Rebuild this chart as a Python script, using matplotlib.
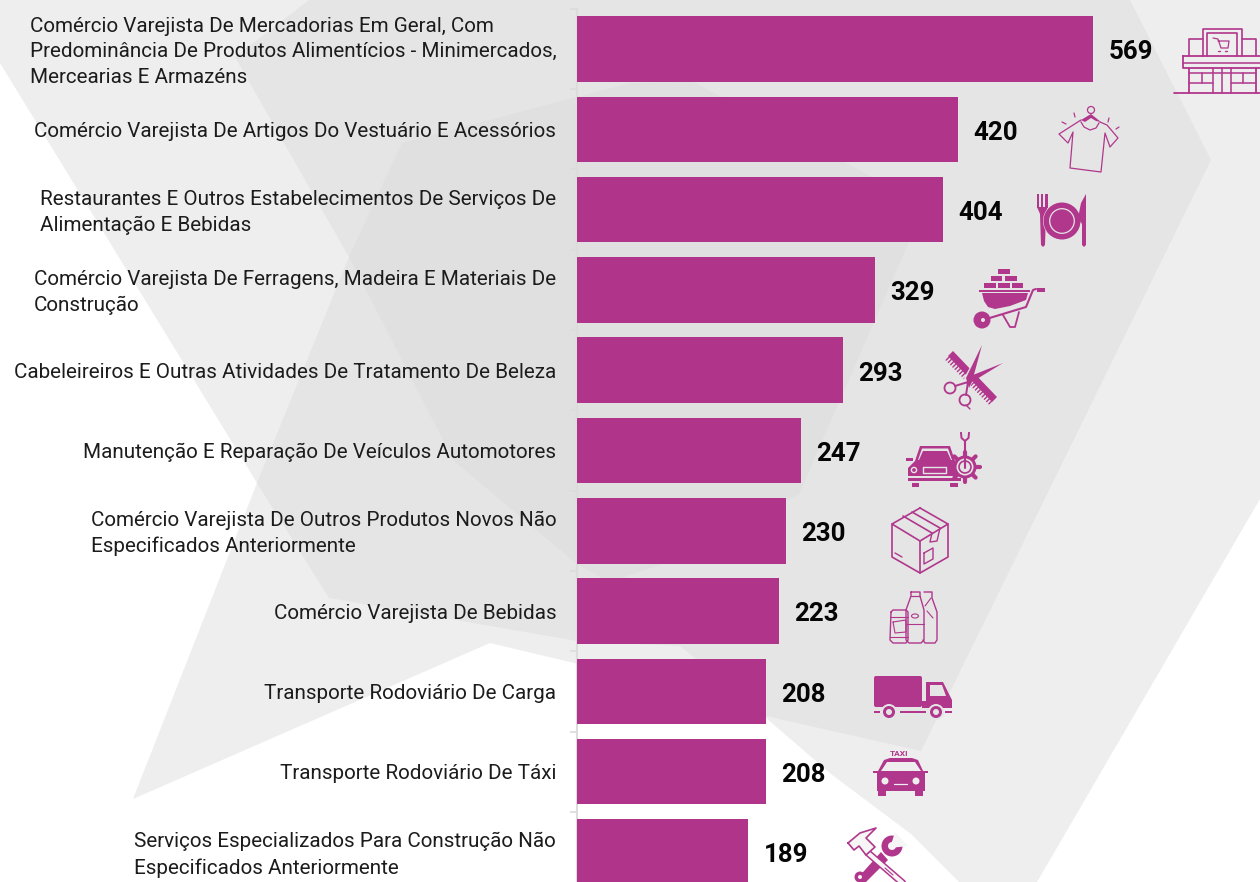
import math
import matplotlib
matplotlib.use("Agg")
import matplotlib.pyplot as plt
from matplotlib.patches import Polygon, Rectangle, Circle, Ellipse, FancyBboxPatch
from matplotlib.transforms import ScaledTranslation

categories = [
    "Comércio Varejista De Mercadorias Em Geral, Com\nPredominância De Produtos Alimentícios - Minimercados,\nMercearias E Armazéns",
    "Comércio Varejista De Artigos Do Vestuário E Acessórios",
    "Restaurantes E Outros Estabelecimentos De Serviços De\nAlimentação E Bebidas",
    "Comércio Varejista De Ferragens, Madeira E Materiais De\nConstrução",
    "Cabeleireiros E Outras Atividades De Tratamento De Beleza",
    "Manutenção E Reparação De Veículos Automotores",
    "Comércio Varejista De Outros Produtos Novos Não\nEspecificados Anteriormente",
    "Comércio Varejista De Bebidas",
    "Transporte Rodoviário De Carga",
    "Transporte Rodoviário De Táxi",
    "Serviços Especializados Para Construção Não\nEspecificados Anteriormente",
]
values = [569, 420, 404, 329, 293, 247, 230, 223, 208, 208, 189]

BAR = "#b0358a"
ICON = "#b0378c"
LIGHT = "#eeeeee"
MID = "#e5e5e5"
DARK = "#e0e0e0"
W, H = 1260, 882

plt.rcParams["font.family"] = ["Roboto", "DejaVu Sans"]
fig = plt.figure(figsize=(W / 100, H / 100), dpi=100, facecolor="white")

# ---------- background shapes (pixel coordinates) ----------
bg = fig.add_axes([0, 0, 1, 1], zorder=0)
bg.set_xlim(0, W)
bg.set_ylim(H, 0)
bg.axis("off")
light_shape = [(0, 0), (0, 63), (257, 483), (133, 799), (490, 643), (574, 663), (766, 718),
               (831, 774), (911, 834), (959, 882), (1037, 882), (1260, 499), (1260, 0)]
mid_shape = [(309, 0), (235, 57), (349, 257), (257, 483), (329, 598), (577, 641), (680, 646),
             (766, 716), (921, 751), (1211, 160), (1130, 0)]
dark_shape = [(349, 257), (402, 143), (630, 83), (693, 82), (925, 205), (799, 494), (662, 564),
              (610, 582), (577, 564), (454, 461)]
bg.add_patch(Polygon(light_shape, closed=True, fc=LIGHT, ec="none"))
bg.add_patch(Polygon(mid_shape, closed=True, fc=MID, ec="none"))
bg.add_patch(Polygon(dark_shape, closed=True, fc=DARK, ec="none"))

# ---------- chart ----------
ax = fig.add_axes([577 / W, 0, (W - 577) / W, 1], zorder=1)
ax.patch.set_alpha(0)
ax.set_xlim(0, (W - 577) / 0.9069)
ax.set_ylim((H - 49) / 80.3, -49 / 80.3)
pos = list(range(len(values)))
ax.barh(pos, values, height=0.816, color=BAR, zorder=3)
for p, v in zip(pos, values):
    ax.annotate(str(v), (v, p), xytext=(11, -2.4), textcoords="offset points", ha="left", va="center",
                fontsize=18.6, fontweight="bold", color="#050505", zorder=4)
ax.set_yticks(pos)
ax.set_yticklabels(categories, fontsize=14.85, color="#1c1c1c", multialignment="left", linespacing=1.43)
ax.tick_params(axis="y", which="major", length=0, pad=15)
ax.set_yticks([p - 0.5 for p in pos], minor=True)
ax.tick_params(axis="y", which="minor", length=5, width=1.2, color="#dcdcdc")
for lab in ax.get_yticklabels():
    if "\n" in lab.get_text():
        lab.set_transform(lab.get_transform() + ScaledTranslation(0, 2.5 / 100, fig.dpi_scale_trans))
ax.set_xticks([])
for s in ("top", "right", "bottom"):
    ax.spines[s].set_visible(False)
ax.spines["left"].set_color("#dcdcdc")
ax.spines["left"].set_linewidth(1.5)
ax.spines["left"].set_bounds(-0.5, (H - 49) / 80.3)

# ---------- icons (pixel coordinates) ----------
ic = fig.add_axes([0, 0, 1, 1], zorder=2)
ic.set_xlim(0, W)
ic.set_ylim(H, 0)
ic.axis("off")


def L(pts, lw=1.1, c=ICON, closed=False, z=3):
    pts = list(pts)
    if closed:
        pts = pts + [pts[0]]
    ic.plot([p[0] for p in pts], [p[1] for p in pts], color=c, lw=lw, solid_capstyle="round",
            solid_joinstyle="round", zorder=z)


def F(pts, c=ICON, z=2):
    ic.add_patch(Polygon(pts, closed=True, fc=c, ec="none", zorder=z))


def R(x0, y0, x1, y1, c=ICON, z=2):
    ic.add_patch(Rectangle((x0, y0), x1 - x0, y1 - y0, fc=c, ec="none", zorder=z))


def B(x0, y0, x1, y1, lw=1.1, c=ICON, z=3):
    L([(x0, y0), (x1, y0), (x1, y1), (x0, y1)], lw=lw, c=c, closed=True, z=z)


def C(x, y, r, c=ICON, z=3):
    ic.add_patch(Circle((x, y), r, fc=c, ec="none", zorder=z))


def RING(x, y, r, lw=1.1, c=ICON, z=3):
    ic.add_patch(Circle((x, y), r, fc="none", ec=c, lw=lw, zorder=z))


# store
L([(1174, 93), (1260, 93)], 1.3)
B(1183, 56, 1264, 68, 1.3)
L([(1183, 63), (1264, 63)], 1.1)
L([(1189, 68), (1189, 93)], 1.3)
L([(1256, 68), (1256, 93)], 1.3)
L([(1189, 73), (1256, 73)], 1.1)
L([(1189, 83), (1213, 83)], 1.1)
L([(1231, 83), (1256, 83)], 1.1)
for x in (1213, 1222, 1231):
    L([(x, 68), (x, 93)], 1.1)
for x in (1202, 1243):
    L([(x, 73), (x, 83)], 1.1)
L([(1189, 56), (1189, 39), (1203, 39)], 1.2)
L([(1256, 56), (1256, 39), (1242, 39)], 1.2)
L([(1203, 56), (1203, 29), (1242, 29), (1242, 56)], 1.2)
L([(1207, 56), (1207, 33), (1237, 33), (1237, 56)], 1.2)
L([(1213, 38), (1218, 39), (1221, 48), (1228, 48), (1229, 41), (1218, 41)], 0.9)
L([(1218, 51), (1220, 51)], 1.0)
L([(1225, 51), (1227, 51)], 1.0)

# shirt
RING(1091, 110, 3.5, 0.9)
F([(1081, 120), (1091, 114), (1101, 122), (1096, 121), (1091, 118), (1085, 122)])
L([(1081, 120), (1059, 134), (1068, 143), (1073, 132), (1070, 168), (1101, 172), (1105, 133),
   (1110, 147), (1118, 138), (1107, 125), (1100, 122)], 0.9)
ic.plot([1081, 1084, 1090, 1096, 1099], [122, 127, 130, 128, 123], color=ICON, lw=0.9)
for a, b in [((1062, 122), (1066, 124)), ((1074, 113), (1075, 117)),
             ((1109, 118), (1108, 122)), ((1119, 127), (1116, 129))]:
    L([a, b], 0.9)

# plate
R(1037, 194, 1039, 208)
R(1041, 194, 1043, 208)
R(1045, 194, 1047.5, 208)
F([(1037, 207), (1047.5, 207), (1046, 214), (1045, 245), (1043, 247), (1041, 245), (1040, 214)])
C(1062, 221, 19, MID, 2.5)
C(1062, 221, 18.5)
RING(1062, 221, 12.3, 0.9, MID)
F([(1086, 194), (1081, 203), (1078, 218), (1082, 224), (1082, 245), (1084, 247), (1086, 245)], ICON, 4)

# wheelbarrow
R(998, 269, 1010, 274)
R(991, 276, 1002, 281)
R(1005, 276, 1017, 281)
R(984, 283, 996, 288)
R(998, 283, 1010, 288)
R(1012, 283, 1023, 288)
R(979, 290, 1030, 292)
F([(982, 293), (1028, 293), (1026, 300), (1010, 306), (995, 309), (988, 307), (984, 301)])
L([(983, 320), (1026, 307), (1033, 290), (1036, 289)], 1.5)
R(1037, 288, 1045, 292)
C(982, 320, 8.5)
C(983, 320, 2, MID, 4)
L([(1003, 315), (1010, 327), (1015, 327), (1019, 312)], 1.3)

# comb and scissors
F([(953, 351), (997, 397), (992, 402), (948, 356)])
for k in range(20):
    t = (k + 0.5) / 20
    x = 950 + (995 - 950) * t
    y = 354 + (400 - 354) * t
    L([(x, y), (x - 5, y + 5)], 1.0)
F([(983, 344), (964, 378), (968, 390), (973, 382)], MID, 4)
F([(982, 345), (966, 378), (969, 388), (972, 382)], ICON, 5)
F([(1003, 363), (973, 375), (966, 384), (972, 382)], ICON, 5)
RING(950, 388, 5.5, 1.3)
RING(965, 400, 5.5, 1.3)
L([(968, 382), (955, 386)], 1.4, z=5)
L([(968, 382), (966, 395)], 1.4, z=5)
L([(966, 405), (970, 409)], 1.0)

# car with gear
R(906, 458, 913, 461)
F([(915, 461), (920, 446), (950, 446), (955, 461)])
F([(918, 460), (922, 448.5), (948, 448.5), (952, 460)], MID, 3)
F([(919, 460), (923, 451), (947, 451), (951, 460)], ICON, 4)
F([(908, 476), (908, 468), (915, 461), (955, 461), (958, 476)])
R(908, 478, 961, 481)
R(912, 483, 919, 487)
R(950, 483, 958, 487)
RING(914, 470, 2.6, 1.0, MID)
B(923, 467, 946, 473, 1.0, MID)
for k in range(8):
    a = k * math.pi / 4
    x0, y0 = 965 + 10 * math.cos(a), 467 + 10 * math.sin(a)
    x1, y1 = 965 + 15 * math.cos(a), 467 + 15 * math.sin(a)
    L([(x0, y0), (x1, y1)], 3)
C(965, 467, 11.5)
C(965, 467, 8.5, MID, 4)
RING(965, 467, 6, 1.2, ICON, 5)
L([(965, 441), (965, 468)], 1.5, z=6)
ic.plot([961, 961.5, 965, 968.5, 969], [433, 438, 441, 438, 433], color=ICON, lw=1.4)

# box
hexa = [(920, 508), (948, 524), (948, 557), (920, 573), (892, 557), (892, 524)]
L(hexa, 1.2, closed=True)
L([(892, 524), (920, 541), (948, 524)], 1.2)
L([(920, 541), (920, 573)], 1.2)
L([(903, 516), (932, 533)], 1.2)
L([(912, 512), (940, 528)], 1.2)
L([(932, 533), (930, 542), (937, 541), (940, 528)], 1.0)
L([(924, 553), (933, 548), (933, 559), (924, 564)], 1.0, closed=True)
L([(895, 553), (902, 557)], 1.0)

# bottles and can
L([(891, 612), (893, 610), (906, 610), (908, 612), (908, 640), (906, 643), (893, 643), (890, 640)], 1.0, closed=True)
L([(890, 617), (908, 617)], 0.8)
L([(890, 637), (908, 637)], 0.8)
L([(893, 622), (906, 620), (906, 632), (895, 633), (893, 622)], 0.8)
L([(911, 592), (920, 592), (920, 596), (924, 610), (924, 640), (921, 643), (909, 643), (906, 640),
   (906, 610), (911, 596)], 1.0, closed=True)
L([(911, 596), (920, 596)], 0.9)
ic.add_patch(Ellipse((915, 616), 7, 4, fc="none", ec=ICON, lw=0.8, zorder=3))
L([(906, 624), (924, 624)], 0.8)
L([(924, 592), (932, 592), (932, 598), (937, 612), (937, 640), (935, 643), (925, 643), (923, 640)], 1.0)
L([(925, 606), (931, 598)], 0.8)
L([(927, 611), (933, 618)], 0.8)

# truck
ic.add_patch(FancyBboxPatch((875, 677), 46, 29, boxstyle="round,pad=1,rounding_size=2", fc=ICON, ec="none", zorder=2))
F([(926, 682), (943, 682), (952, 700), (952, 708), (922, 708), (922, 701), (926, 701)])
F([(930, 685), (942, 685), (946, 696), (930, 696)], MID, 3)
R(874, 711, 880, 713)
R(900, 711, 926, 713)
R(945, 711, 952, 713)
for x in (889, 936):
    C(x, 712, 8, MID, 3)
    C(x, 712, 6, ICON, 4)
    C(x, 712, 3, MID, 5)

# taxi
ic.text(899, 754, "TAXI", fontsize=6, fontweight="bold", color=ICON, ha="center", va="center", zorder=5)
F([(877, 773), (884, 760), (890, 758), (912, 758), (918, 760), (924, 773)])
F([(881, 771), (887, 762), (915, 762), (921, 771)], LIGHT, 3)
R(873, 771, 928, 773, ICON, 4)
R(877, 773, 925, 791)
R(878, 790, 886, 796)
R(915, 790, 923, 796)
C(885, 781, 3.5, LIGHT)
C(916, 781, 3.5, LIGHT)
L([(894, 784), (907, 784)], 0.9, LIGHT, z=5)

# hammer and wrench
F([(856, 880), (864, 884), (888, 860), (881, 852)])
C(860, 877, 5.5)
C(860, 877, 2, "#f6f6f6", 4)
C(892, 846, 10.5)
F([(890, 848), (895, 832), (908, 846)], "#f6f6f6", 4)
C(892, 846, 4, "#f6f6f6", 4)
L([(868, 853), (905, 885)], 5.2, ICON, z=5)
L([(868, 853), (905, 885)], 3.0, "#f6f6f6", z=6)
L([(885, 868), (893, 875)], 0.8, ICON, z=7)
hammer = [(848, 843), (860, 833), (876, 828), (866, 838), (875, 847), (866, 855), (859, 846), (854, 850)]
F(hammer, "#f6f6f6", 6)
L(hammer, 1.2, closed=True, z=7)

fig.savefig("out.png", dpi=100, facecolor="white")
